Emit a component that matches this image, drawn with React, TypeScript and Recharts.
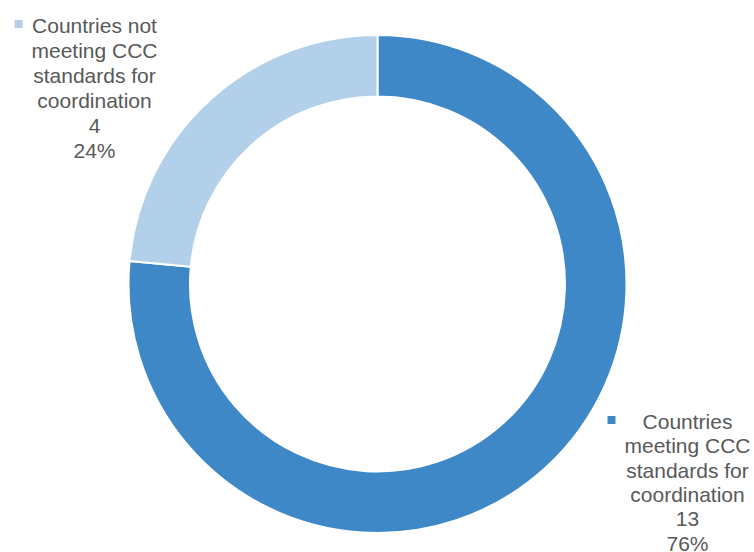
import React from 'react'
import { PieChart, Pie, Cell } from 'recharts'

const categories = ['Countries meeting CCC standards for coordination', 'Countries not meeting CCC standards for coordination']
const labelLines = [
  ['Countries', 'meeting CCC', 'standards for', 'coordination'],
  ['Countries not', 'meeting CCC', 'standards for', 'coordination'],
]
const counts = [13, 4]
const colors = ['#3F88C8', '#B3D0EA']

const data = categories.map((name, i) => ({ name, value: counts[i] }))

// label anchor offsets from pie centre (Excel placed these by hand)
const labelPos = [
  { dx: 310, dy: 137, spacing: 24.3, markerDx: -80 },
  { dx: -283, dy: -259, spacing: 25, markerDx: -80 },
]

const textColor = '#595959'

function renderLabel(props: any) {
  const { cx, cy, index, value, percent } = props
  const p = labelPos[index]
  const x = cx + p.dx
  const y = cy + p.dy
  const lines = [...labelLines[index], String(value), `${Math.round(percent * 100)}%`]
  return (
    <g key={`lbl-${index}`}>
      <rect x={x + p.markerDx} y={y - 5} width={8} height={8} fill={colors[index]} />
      <text
        x={x}
        y={y}
        textAnchor="middle"
        fill={textColor}
        fontSize={21}
        fontFamily="'Liberation Sans', Arial, sans-serif"
        dominantBaseline="central"
      >
        {lines.map((l, i) => (
          <tspan key={i} x={x} dy={i === 0 ? 0 : p.spacing}>
            {l}
          </tspan>
        ))}
      </text>
    </g>
  )
}

export default function App() {
  return (
    <div style={{ position: 'absolute', left: 0, top: 0, width: 754, height: 552, background: '#fff' }}>
      <PieChart width={754} height={552} margin={{ top: 0, right: 0, bottom: 0, left: 0 }}>
        <Pie
          data={data}
          dataKey="value"
          nameKey="name"
          cx={377.5}
          cy={284}
          innerRadius={187.5}
          outerRadius={249}
          startAngle={90}
          endAngle={-270}
          stroke="#ffffff"
          strokeWidth={2}
          label={renderLabel}
          labelLine={false}
          isAnimationActive={false}
        >
          {data.map((d, i) => (
            <Cell key={d.name} fill={colors[i]} />
          ))}
        </Pie>
      </PieChart>
    </div>
  )
}
